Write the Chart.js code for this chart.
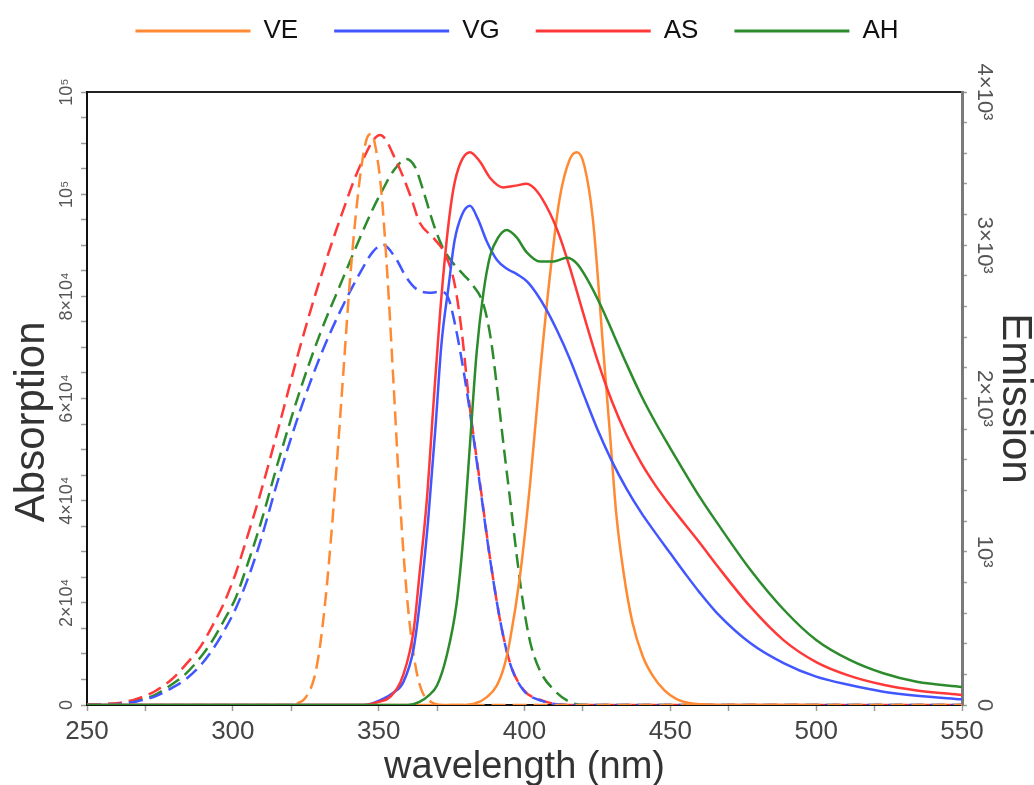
<!DOCTYPE html>
<html>
<head>
<meta charset="utf-8">
<title>Absorption and emission spectra</title>
<script src="https://cdn.jsdelivr.net/npm/chart.js@4.4.1/dist/chart.umd.min.js"></script>
<style>
  html, body { margin: 0; padding: 0; background: #ffffff; }
  #wrap { width: 1034px; height: 785px; }
</style>
</head>
<body>
<div id="wrap"><canvas id="spectra" width="1034" height="785"></canvas></div>
<script>
// ---- series names and colours ----
const seriesNames = ['VE', 'VG', 'AS', 'AH'];
const seriesColors = ['rgb(255,138,51)', 'rgb(66,86,255)', 'rgb(255,56,56)', 'rgb(44,140,44)'];

// ---- axis tick labels ----
const xMajorTicks = [250, 300, 350, 400, 450, 500, 550];
const xMinorTicks = [270, 320, 370, 420, 470, 520];
const absLabelStep = 20000;
const absTickLabels = ['0', '2×10⁴', '4×10⁴', '6×10⁴', '8×10⁴', '10⁵', '10⁵'];
const emLabelStep = 1000;
const emTickLabels = ['0', '10³', '2×10³', '3×10³', '4×10³'];

// ---- absorption spectra (left axis), wavelength in nm ----
const veAbsNm = [250, 300, 318, 322, 325, 328, 330, 332, 334, 336, 338, 340, 342, 344, 346, 347.5, 349, 351, 353, 355, 357, 359, 361, 363, 365, 368, 372, 420, 550];
const veAbs   = [0, 0, 0, 300, 1500, 5500, 12000, 22000, 35000, 50000, 66000, 82000, 95000, 105000, 111000, 111800, 109000, 100000, 84000, 64000, 43000, 26000, 14000, 6500, 2500, 600, 0, 0, 0];

const vgAbsNm = [250, 256, 261, 267, 273, 279, 284, 289, 293, 297, 301, 305, 309, 316, 323, 330, 337, 344, 348, 351.5, 356, 359.5, 363, 367.5, 371.5, 374, 376, 378.5, 381, 384.5, 388, 391.5, 395, 399.5, 406, 415, 550];
const vgAbs   = [0, 100, 200, 700, 1600, 3300, 5100, 7800, 10800, 14500, 18900, 24500, 31200, 45000, 57500, 68300, 77300, 85000, 88700, 90100, 87300, 83700, 81400, 80700, 80900, 79500, 75000, 67500, 58500, 44000, 29300, 17000, 8200, 3000, 800, 0, 0];

const asAbsNm = [250, 256, 261, 267, 273, 279, 284, 289, 293, 297, 301, 305, 309, 316, 323, 330, 337, 344, 350.5, 356, 361, 364, 369, 373, 376, 378.5, 381, 384.5, 388, 391.5, 395, 399.5, 406, 415, 550];
const asAbs   = [100, 200, 400, 1200, 2600, 5000, 8000, 11500, 15500, 20000, 25800, 33000, 40500, 55000, 70000, 83500, 95500, 106000, 111600, 106500, 99500, 94500, 91300, 88000, 82500, 73000, 59500, 44500, 29500, 17000, 8300, 3100, 900, 0, 0];

const ahAbsNm = [250, 256, 261, 267, 273, 279, 284, 289, 293, 297, 301, 305, 309, 316, 323, 330, 337, 344, 347.5, 351.5, 355, 359.5, 362.5, 365.5, 369, 372, 375.5, 379, 382.5, 386, 388.5, 390.5, 393, 395, 397.5, 399.5, 402, 405.5, 410, 415.5, 421, 550];
const ahAbs   = [0, 150, 300, 900, 1900, 4000, 6200, 9400, 12600, 16600, 21000, 27500, 34500, 48500, 61500, 72800, 82500, 92000, 96500, 101000, 104500, 106900, 105300, 100300, 93800, 89500, 86500, 84300, 82000, 78300, 71500, 62500, 50000, 40500, 28500, 20000, 12200, 6500, 3000, 600, 0, 0];

// ---- emission spectra (right axis), wavelength in nm ----
const veEmNm = [250, 378, 383, 387, 390.5, 393, 395, 398.5, 402, 405.5, 409, 412, 415.5, 418, 420.5, 423.5, 427, 429.5, 431.5, 434, 437, 440.5, 444, 448, 452, 458, 470, 500];
const veEm   = [0, 0, 10, 50, 127, 250, 420, 850, 1460, 2200, 2850, 3300, 3560, 3607, 3520, 3160, 2320, 1720, 1240, 860, 540, 320, 190, 95, 40, 8, 0, 0];

const vgEmNm = [250, 345, 351.5, 355, 358.5, 362, 364.5, 367, 369.5, 371.5, 374, 376, 378.5, 381.3, 384, 387, 390.5, 394, 397.5, 401, 404, 407.5, 411, 415.5, 420, 425, 430, 435, 440, 445, 450, 455, 460, 466, 477.5, 489, 500, 511.5, 523, 534.5, 550];
const vgEm   = [0, 0, 40, 80, 151, 369, 731, 1214, 1818, 2350, 2737, 3028, 3196, 3257, 3172, 3028, 2906, 2846, 2810, 2761, 2688, 2580, 2450, 2260, 2040, 1800, 1590, 1410, 1255, 1120, 990, 860, 735, 600, 403, 272, 185, 130, 87, 60, 37];

const asEmNm = [250, 345, 350, 354, 358.5, 362, 364, 366.5, 368.7, 371, 373.3, 375.6, 378, 381.3, 384.7, 388.2, 392.7, 397, 400.7, 404.2, 408.7, 412.2, 415.6, 420, 425, 430, 435, 440, 445, 450, 455, 460, 466, 477.5, 489, 500, 511.5, 523, 534.5, 550];
const asEm   = [0, 0, 20, 54, 200, 489, 852, 1335, 1939, 2543, 3028, 3365, 3535, 3607, 3546, 3439, 3377, 3389, 3401, 3354, 3210, 3050, 2850, 2565, 2250, 1980, 1760, 1580, 1430, 1300, 1180, 1060, 910, 640, 420, 280, 190, 132, 95, 65];

const ahEmNm = [250, 360, 364, 367, 370, 373.3, 376.7, 379, 381.3, 383.6, 385.9, 388.2, 391, 393.9, 397.3, 400.7, 405.3, 409.9, 414.5, 417.9, 421.3, 425.9, 430.5, 435, 440, 445, 450, 455, 460, 466, 477.5, 489, 500, 511.5, 523, 534.5, 550];
const ahEm   = [0, 0, 20, 60, 127, 320, 659, 1094, 1698, 2303, 2688, 2930, 3051, 3099, 3051, 2955, 2894, 2894, 2918, 2882, 2786, 2617, 2420, 2225, 2020, 1840, 1675, 1515, 1360, 1190, 881, 620, 424, 294, 207, 152, 118];

// ---- helpers ----
const toPoints = (xs, ys) => xs.map((x, i) => ({ x: x, y: ys[i] }));
const labelAt = (value, step, labels) => {
  const k = Math.round(value / step);
  return Math.abs(value - k * step) < 1e-6 && labels[k] !== undefined ? labels[k] : '';
};

const emissionData = [[veEmNm, veEm], [vgEmNm, vgEm], [asEmNm, asEm], [ahEmNm, ahEm]];
const absorptionData = [[veAbsNm, veAbs], [vgAbsNm, vgAbs], [asAbsNm, asAbs], [ahAbsNm, ahAbs]];
const emissionOrder = [3, 2, 1, 0];   // AH emission drawn on top

const datasets = [];
seriesNames.forEach((name, i) => {
  datasets.push({
    label: name,
    data: toPoints(emissionData[i][0], emissionData[i][1]),
    yAxisID: 'yEm',
    borderColor: seriesColors[i],
    backgroundColor: seriesColors[i],
    borderWidth: 2.5,
    pointRadius: 0,
    cubicInterpolationMode: 'monotone',
    order: emissionOrder[i]
  });
});
seriesNames.forEach((name, i) => {
  datasets.push({
    label: name + ' absorption',
    data: toPoints(absorptionData[i][0], absorptionData[i][1]),
    yAxisID: 'yAbs',
    borderColor: seriesColors[i],
    backgroundColor: seriesColors[i],
    borderWidth: 2.5,
    borderDash: [14, 7],
    pointRadius: 0,
    cubicInterpolationMode: 'monotone',
    order: 4 + i
  });
});

Chart.defaults.font.family = '"Liberation Sans", Arial, sans-serif';
Chart.defaults.color = '#444';

const tickGrid = (len) => ({
  display: true,
  drawOnChartArea: false,
  drawTicks: true,
  tickLength: len,
  tickColor: '#9a9a9a',
  tickWidth: 1.5
});

new Chart(document.getElementById('spectra'), {
  type: 'line',
  data: { datasets: datasets },
  options: {
    responsive: false,
    animation: false,
    events: [],
    layout: { padding: { top: -18, left: 0, right: 0, bottom: 0 } },
    plugins: {
      tooltip: { enabled: false },
      legend: {
        display: true,
        position: 'top',
        align: 'center',
        labels: {
          boxWidth: 115,
          boxHeight: 3,
          padding: 36,
          color: '#111',
          font: { size: 26 },
          filter: item => item.datasetIndex < seriesNames.length,
          sort: (a, b) => a.datasetIndex - b.datasetIndex,
          generateLabels: chart =>
            Chart.defaults.plugins.legend.labels.generateLabels(chart).map(item =>
              Object.assign(item, { lineWidth: 0, fillStyle: item.strokeStyle, lineDash: [] }))
        }
      }
    },
    scales: {
      x: {
        type: 'linear',
        position: 'bottom',
        min: 250,
        max: 550,
        afterBuildTicks: s => { s.ticks = xMajorTicks.concat(xMinorTicks).sort((a, b) => a - b).map(v => ({ value: v })); },
        afterFit: s => { s.height = 80; },
        grid: tickGrid(6),
        border: { display: true, color: '#111', width: 2 },
        ticks: {
          autoSkip: false,
          maxRotation: 0,
          padding: 5,
          color: '#444',
          font: { size: 26 },
          callback: v => (xMajorTicks.includes(v) ? String(v) : '')
        },
        title: {
          display: true,
          text: 'wavelength (nm)',
          color: '#333',
          font: { size: 38 },
          padding: { top: 0, bottom: -5 }
        }
      },
      xTop: {
        type: 'linear',
        position: 'top',
        min: 250,
        max: 550,
        afterFit: s => { s.height = 38; },
        grid: { display: true, drawOnChartArea: false, drawTicks: false },
        border: { display: true, color: '#222', width: 2 },
        ticks: { display: false }
      },
      yAbs: {
        type: 'linear',
        position: 'left',
        min: 0,
        max: 120000,
        afterFit: s => { s.width = 87; },
        grid: tickGrid(6),
        border: { display: true, color: '#111', width: 2 },
        ticks: {
          stepSize: 5000,
          autoSkip: false,
          minRotation: 90,
          maxRotation: 90,
          crossAlign: 'center',
          padding: -10,
          color: '#555',
          font: { size: 18 },
          callback: v => labelAt(v, absLabelStep, absTickLabels)
        },
        title: {
          display: true,
          text: 'Absorption    ',
          color: '#333',
          font: { size: 42 },
          padding: { top: 7, bottom: 0 }
        }
      },
      yEm: {
        type: 'linear',
        position: 'right',
        min: 0,
        max: 4000,
        afterFit: s => { s.width = 72; },
        grid: tickGrid(5),
        border: { display: true, color: '#7a7a7a', width: 3 },
        ticks: {
          stepSize: 200,
          autoSkip: false,
          minRotation: -90,
          maxRotation: -90,
          crossAlign: 'center',
          padding: -11,
          color: '#555',
          font: { size: 22 },
          callback: v => labelAt(v, emLabelStep, emTickLabels)
        },
        title: {
          display: true,
          text: 'Emission',
          color: '#333',
          font: { size: 42 },
          padding: { top: -6, bottom: 0 }
        }
      }
    }
  }
});
</script>
</body>
</html>
